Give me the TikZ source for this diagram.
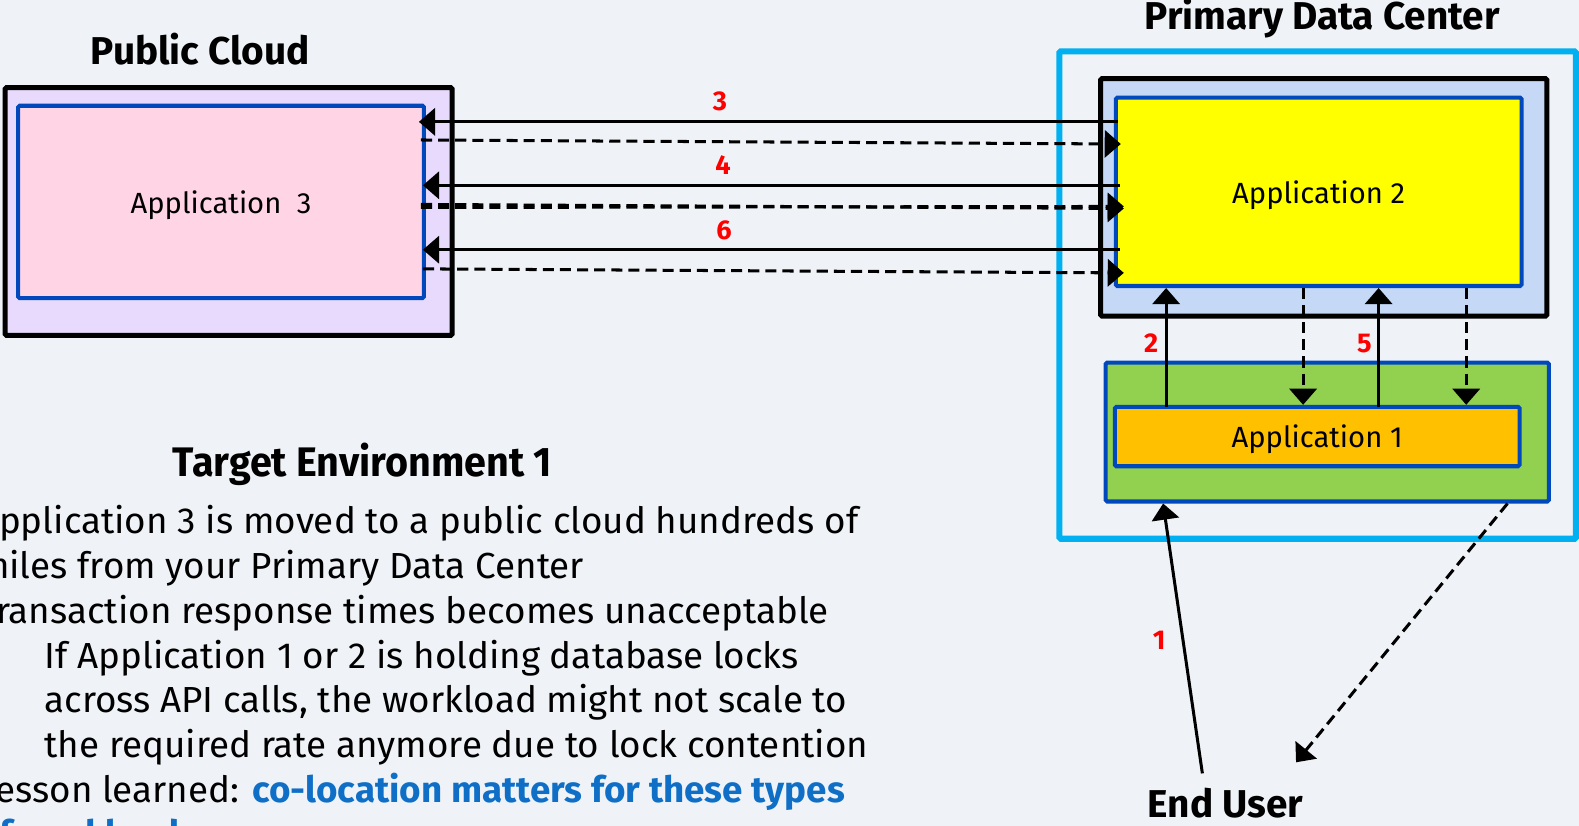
\documentclass[tikz,border=0pt]{standalone}
\usepackage{fontspec}
\setmainfont{Fira Sans}
\newfontfamily\bodyfont{Fira Sans}[FakeStretch=1.015]
\newfontfamily\headfont{Fira Sans}[FakeStretch=0.957]
\usetikzlibrary{arrows.meta}
\definecolor{bg}{HTML}{EFF3F7}
\definecolor{lav}{HTML}{E7DAFD}
\definecolor{pinkfill}{HTML}{FFD5E6}
\definecolor{rim}{HTML}{0048BC}
\definecolor{cyanrim}{HTML}{00B0F0}
\definecolor{paleblue}{HTML}{C5D8F6}
\definecolor{yel}{HTML}{FFFF00}
\definecolor{grn}{HTML}{92D050}
\definecolor{org}{HTML}{FFC000}
\definecolor{hl}{HTML}{0F6FC6}
\tikzset{
  box/.style={draw, rectangle, rounded corners=1.5pt, inner sep=0pt, outer sep=0pt},
  frame/.style={box, line width=5pt, draw=black},
  appbox/.style={box, line width=4pt, draw=rim, text depth=0pt},
  flow/.style={line width=3pt, -{Triangle[length=16pt,width=27pt]}},
  ret/.style={flow, dash pattern=on 11pt off 6pt},
  num/.style={text=red, font=\fontsize{27}{27}\selectfont\bfseries, inner sep=0pt},
  heading/.style={font=\fontsize{38.5}{38.5}\selectfont\bfseries, inner sep=0pt},
  appl/.style={font=\fontsize{29}{29}\selectfont},
  body/.style={font=\bodyfont\fontsize{36}{36}\selectfont, anchor=base west, inner sep=0pt}
}
\begin{document}
\begin{tikzpicture}[x=1pt,y=-1pt]
\useasboundingbox (0,0) rectangle (1568,820);
\fill[bg] (0,0) rectangle (1568,820);
\begin{scope}
\clip (0,0) rectangle (1568,820);

% public cloud
\node[heading] (pctitle) at (199,49) {Public Cloud};
\node[frame, fill=lav, minimum width=444pt, minimum height=246pt] (pc) at (227,210) {};
\node[appbox, fill=pinkfill, minimum width=403pt, minimum height=191pt, appl] (app3) at (219.5,200.5) {Application\ \ 3};

% primary data center
\node[heading] (dctitle) at (1313,18) {Primary Data Center};
\node[box, line width=6pt, draw=cyanrim, minimum width=513pt, minimum height=484pt] (dc) at (1308.5,293) {};
\node[frame, fill=paleblue, minimum width=443pt, minimum height=236pt] (host2) at (1314.5,196) {};
\node[appbox, fill=yel, minimum width=403pt, minimum height=187pt, appl] (app2) at (1309.5,190.5) {Application 2};
\node[appbox, fill=grn, minimum width=440pt, minimum height=138pt] (host1) at (1318,429) {};
\node[appbox, fill=org, minimum width=402pt, minimum height=59pt, appl] (app1) at (1308,433.5) {Application 1};

% end user
\node[heading] (user) at (1217,798) {End User};

% connector end points
\coordinate (r3s) at (1110,121);  \coordinate (l3s) at (416,121);
\coordinate (l3d) at (418,139);   \coordinate (r3d) at (1113,143);
\coordinate (r4s) at (1112,184);  \coordinate (l4s) at (420,184);
\coordinate (l4d) at (418,203);   \coordinate (r4d) at (1116,207);
\coordinate (l4e) at (418,206);   \coordinate (r4e) at (1116,205);
\coordinate (r6s) at (1112,248);  \coordinate (l6s) at (420,248);
\coordinate (l6d) at (420,267);   \coordinate (r6d) at (1116,271);
\coordinate (a2lo) at (1158,404); \coordinate (a2hi) at (1158,286);
\coordinate (a5lo) at (1369,404); \coordinate (a5hi) at (1369,286);
\coordinate (d1hi) at (1294,286); \coordinate (d1lo) at (1294,402);
\coordinate (d2hi) at (1456,286); \coordinate (d2lo) at (1456,402);
\coordinate (u1) at (1194,768);   \coordinate (h1in) at (1155,500);
\coordinate (h1out) at (1497,500); \coordinate (u2) at (1287,757);

% calls between the data center and the cloud
\draw[flow] (r3s) -- (l3s);
\draw[ret] (l3d) -- (r3d);
\draw[flow] (r4s) -- (l4s);
\draw[ret] (l4d) -- (r4d);
\draw[ret] (l4e) -- (r4e);
\draw[flow] (r6s) -- (l6s);
\draw[ret] (l6d) -- (r6d);

% calls inside the data center
\draw[flow] (a2lo) -- (a2hi);
\draw[flow] (a5lo) -- (a5hi);
\draw[ret] (d1hi) -- (d1lo);
\draw[ret] (d2hi) -- (d2lo);

% end user request and response
\draw[flow] (u1) -- (h1in);
\draw[ret] (h1out) -- (u2);

% step numbers
\node[num] (n3) at (715,101) {3};
\node[num] (n4) at (718,164) {4};
\node[num] (n6) at (719,229) {6};
\node[num] (n2) at (1143,341) {2};
\node[num] (n5) at (1355,341) {5};
\node[num] (n1) at (1151,636) {1};

% description
\node[font=\headfont\fontsize{41}{41}\selectfont\bfseries, inner sep=0pt] (tenv) at (360,461) {Target Environment 1};
\node[body] (t1) at (-22,530) {Application 3 is moved to a public cloud hundreds of};
\node[body] (t2) at (-22,574) {miles from your Primary Data Center};
\node[body] (t3) at (-22,619) {Transaction response times becomes unacceptable};
\node[body] (t4) at (44,664) {If Application 1 or 2 is holding database locks};
\node[body] (t5) at (44,708) {across API calls, the workload might not scale to};
\node[body] (t6) at (44,752) {the required rate anymore due to lock contention};
\node[body] (t7) at (-22,797) {Lesson learned: \textcolor{hl}{\bfseries co-location matters for these types}};
\node[body, text=hl, font=\bodyfont\fontsize{36}{36}\selectfont\bfseries] (t8) at (-22,841) {of workloads};
\end{scope}
\end{tikzpicture}
\end{document}
